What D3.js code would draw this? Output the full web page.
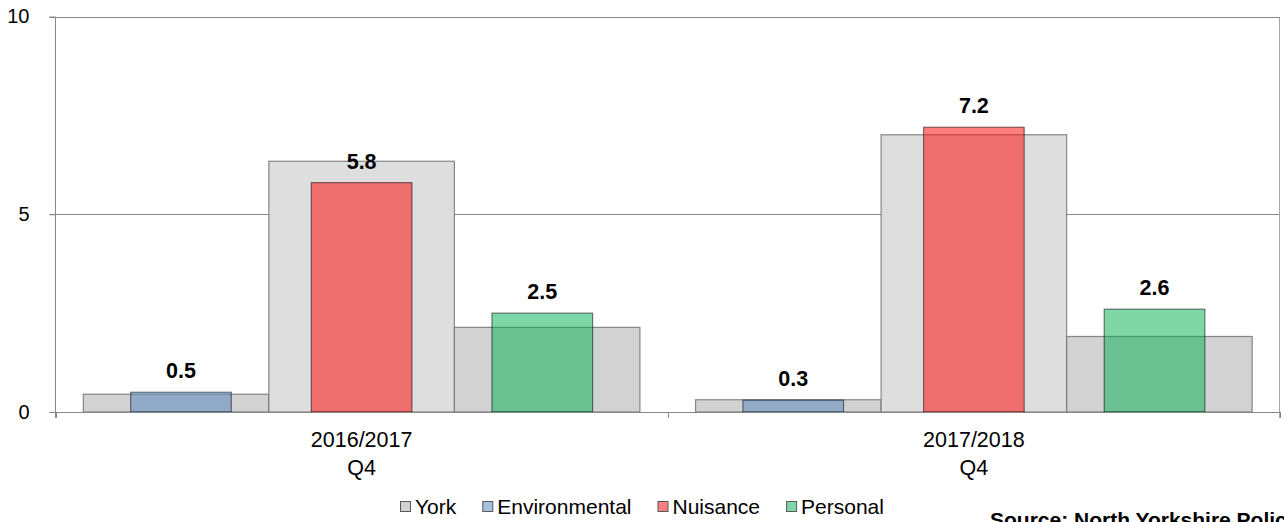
<!DOCTYPE html>
<html>
<head>
<meta charset="utf-8">
<script src="https://cdn.jsdelivr.net/npm/d3@7"></script>
<style>
  body { margin: 0; background: #fff; }
  text { font-family: "Liberation Sans", Arial, sans-serif; fill: #000; }
</style>
</head>
<body>
<svg id="chart"></svg>
<script>
// categories and values
const categories = ["2016/2017", "2017/2018"];
const categorySub = ["Q4", "Q4"];
const seriesNames = ["Environmental", "Nuisance", "Personal"];
const environmental = [0.5, 0.3];
const nuisance = [5.8, 7.2];
const personal = [2.5, 2.6];
// York comparison value for each crime type, per period
const yorkEnvironmental = [0.45, 0.31];
const yorkNuisance = [6.34, 7.01];
const yorkPersonal = [2.14, 1.91];
const yTicks = [0, 5, 10];

const width = 1284, height = 522;
const plotLeft = 55.5, plotRight = 1280, plotTop = 16.5, plotBottom = 412;

const seriesColors = ["#4F81BD", "#FF0000", "#00B050"];
const yorkColors = ["#D2D2D2", "#DEDEDE", "#D2D2D2"];

const svg = d3.select("#chart")
  .attr("width", width)
  .attr("height", height);

const x = d3.scaleBand()
  .domain(categories)
  .range([plotLeft, plotRight]);

// York bars sit side by side, coloured bars are narrower in front
const xYork = d3.scaleBand()
  .domain(seriesNames)
  .range([0, x.bandwidth()])
  .paddingInner(0)
  .paddingOuter(0.15);

const xSeries = d3.scaleBand()
  .domain(seriesNames)
  .range([0, x.bandwidth()])
  .paddingInner(0.443)
  .paddingOuter(0.416);

const y = d3.scaleLinear()
  .domain([0, 10])
  .range([plotBottom, plotTop]);

// gridlines and plot frame
svg.append("g")
  .selectAll("line")
  .data(yTicks.filter(d => d > 0))
  .enter()
  .append("line")
  .attr("x1", plotLeft - 6)
  .attr("x2", plotRight)
  .attr("y1", d => Math.round(y(d)) + 0.5)
  .attr("y2", d => Math.round(y(d)) + 0.5)
  .attr("stroke", "#868686");

svg.append("line")
  .attr("x1", plotRight - 0.5).attr("x2", plotRight - 0.5)
  .attr("y1", Math.round(plotTop) + 0.5).attr("y2", plotBottom + 6)
  .attr("stroke", "#A6A6A6");

// build rows for the bars
const rows = categories.map((c, i) => ({
  cat: c,
  york: [yorkEnvironmental[i], yorkNuisance[i], yorkPersonal[i]],
  vals: [environmental[i], nuisance[i], personal[i]]
}));

const groups = svg.selectAll("g.grp")
  .data(rows)
  .enter()
  .append("g")
  .attr("class", "grp")
  .attr("transform", d => `translate(${x(d.cat)},0)`);

groups.selectAll("rect.york")
  .data(d => d.york.map((v, j) => ({ name: seriesNames[j], v: v, j: j })))
  .enter()
  .append("rect")
  .attr("class", "york")
  .attr("x", d => xYork(d.name))
  .attr("width", xYork.bandwidth())
  .attr("y", d => y(d.v))
  .attr("height", d => plotBottom - y(d.v))
  .attr("fill", d => yorkColors[d.j])
  .attr("stroke", "#6E6E6E")
  .attr("stroke-opacity", 0.8)
  .attr("stroke-width", 1.2);

groups.selectAll("rect.val")
  .data(d => d.vals.map((v, j) => ({ name: seriesNames[j], v: v, j: j })))
  .enter()
  .append("rect")
  .attr("class", "val")
  .attr("x", d => xSeries(d.name))
  .attr("width", xSeries.bandwidth())
  .attr("y", d => y(d.v))
  .attr("height", d => plotBottom - y(d.v))
  .attr("fill", d => seriesColors[d.j])
  .attr("fill-opacity", 0.5)
  .attr("stroke", "#000")
  .attr("stroke-opacity", 0.5)
  .attr("stroke-width", 1.2);

groups.selectAll("text.lbl")
  .data(d => d.vals.map((v, j) => ({ name: seriesNames[j], v: v })))
  .enter()
  .append("text")
  .attr("class", "lbl")
  .attr("x", d => xSeries(d.name) + xSeries.bandwidth() / 2)
  .attr("y", d => y(d.v) - 14)
  .attr("text-anchor", "middle")
  .style("font-size", "21.5px")
  .style("font-weight", "bold")
  .text(d => d3.format(".1f")(d.v));

// y axis
const yAxis = d3.axisLeft(y)
  .tickValues(yTicks)
  .tickSize(6)
  .tickPadding(20)
  .tickFormat(d3.format("d"));

const gy = svg.append("g")
  .attr("transform", `translate(${plotLeft},0)`)
  .call(yAxis);
gy.select(".domain").attr("stroke", "#868686").attr("d", `M-6,${Math.round(plotTop) + 0.5}H0V${plotBottom + 6}`);
gy.selectAll(".tick line").attr("stroke", "#868686");
gy.selectAll(".tick text")
  .style("font-size", "20px")
  .attr("fill", "#000");

// x axis: baseline and ticks on group boundaries
svg.append("line")
  .attr("x1", plotLeft - 6).attr("x2", plotRight)
  .attr("y1", plotBottom + 0.5).attr("y2", plotBottom + 0.5)
  .attr("stroke", "#868686");

svg.append("g")
  .selectAll("line")
  .data(categories.concat(["end"]))
  .enter()
  .append("line")
  .attr("x1", (d, i) => Math.round(plotLeft + i * x.step()) + 0.5)
  .attr("x2", (d, i) => Math.round(plotLeft + i * x.step()) + 0.5)
  .attr("y1", plotBottom)
  .attr("y2", plotBottom + 6)
  .attr("stroke", "#868686");

const catLabels = svg.append("g")
  .selectAll("text")
  .data(categories)
  .enter()
  .append("text")
  .attr("x", d => x(d) + x.bandwidth() / 2)
  .attr("text-anchor", "middle")
  .style("font-size", "21.5px");
catLabels.append("tspan")
  .attr("x", d => x(d) + x.bandwidth() / 2)
  .attr("y", 447)
  .text(d => d);
catLabels.append("tspan")
  .attr("x", d => x(d) + x.bandwidth() / 2)
  .attr("y", 475)
  .text((d, i) => categorySub[i]);

// legend
const legendNames = ["York"].concat(seriesNames);
const legendFill = ["#D2D2D2"].concat(seriesColors);
const legend = svg.append("g");
let lx = 400;
legendNames.forEach((name, i) => {
  legend.append("rect")
    .attr("x", lx + 0.5)
    .attr("y", 501.5)
    .attr("width", 10)
    .attr("height", 10)
    .attr("fill", legendFill[i])
    .attr("fill-opacity", i === 0 ? 1 : 0.5)
    .attr("stroke", "#595959");
  const t = legend.append("text")
    .attr("x", lx + 15)
    .attr("y", 514)
    .style("font-size", "21px")
    .text(name);
  lx += 15 + t.node().getComputedTextLength() + 26;
});

// source note, cut off by the bottom edge like the original
svg.append("text")
  .attr("x", 990)
  .attr("y", 527)
  .style("font-size", "21px")
  .style("font-weight", "bold")
  .text("Source: North Yorkshire Police");
</script>
</body>
</html>
